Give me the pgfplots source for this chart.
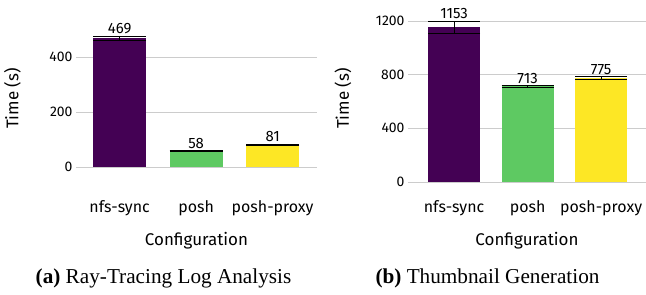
\documentclass[border=0pt]{standalone}
\usepackage{fontspec}
\setmainfont{Fira Sans}
\newfontfamily\capfont{Liberation Serif}
\usepackage{pgfplots}
\pgfplotsset{compat=1.18}
\definecolor{vpurple}{HTML}{440154}
\definecolor{vgreen}{HTML}{5EC962}
\definecolor{vyellow}{HTML}{FDE725}
\definecolor{gridgray}{HTML}{CCCCCC}
\pgfplotsset{
  mybar/.style={
    scale only axis,
    font=\fontsize{14}{16}\selectfont,
    /pgf/number format/assume math mode=true,
    /pgf/number format/1000 sep={},
    axis line style={draw=none},
    tick style={draw=none},
    ymajorgrids,
    grid style={gridgray, line width=0.8pt},
    xtick={0,1,2},
    xticklabels={nfs-sync,posh,posh-proxy},
    xticklabel style={anchor=base, yshift=-30bp, font=\fontsize{16}{18}\selectfont},
    ylabel={Time (s)},
    xlabel={Configuration},
    label style={font=\fontsize{17}{20}\selectfont},
    clip=false,
    anchor=south west,
  },
  barplot/.style={
    ybar, bar shift=0pt, draw=none, fill=#1,
    error bars/.cd, y dir=both, y explicit,
    error bar style={black, line width=0.8pt},
  },
  vlabel/.style={draw=none, mark=none, nodes near coords, point meta=explicit symbolic,
    nodes near coords style={anchor=south, inner sep=2bp, font=\fontsize{15}{18}\selectfont}},
}
\begin{document}
\begin{tikzpicture}[x=1bp,y=1bp]
\useasboundingbox (0,0) rectangle (646,294);
% left axis
\begin{axis}[mybar,
  at={(76bp,112bp)},
  width=241bp, height=167bp,
  xmin=-0.57, xmax=2.58,
  ymin=-54.5, ymax=553,
  ytick={0,200,400},
  ylabel style={at={(axis description cs:-0.264,0.5)}, anchor=center},
  xlabel style={at={(axis description cs:0.5,-0.353)}, anchor=center},
  bar width=53bp,
  error bars/error mark options={rotate=90, black, line width=0.8pt, mark size=26.5bp},
]
\addplot[barplot=vpurple] coordinates {(0,469) +- (0,7.5)};
\addplot[barplot=vgreen] coordinates {(1,58) +- (0,2)};
\addplot[barplot=vyellow] coordinates {(2,81) +- (0,2.5)};
\addplot[vlabel] coordinates {(0,476.5)[469] (1,60)[58] (2,83.5)[81]};
\end{axis}
% right axis
\begin{axis}[mybar,
  at={(408bp,112bp)},
  width=238bp, height=167bp,
  xmin=-0.626, xmax=2.61,
  ymin=0, ymax=1245,
  ytick={0,400,800,1200},
  ylabel style={at={(axis description cs:-0.273,0.5)}, anchor=center},
  xlabel style={at={(axis description cs:0.5,-0.353)}, anchor=center},
  bar width=52bp,
  error bars/error mark options={rotate=90, black, line width=0.8pt, mark size=26bp},
]
\addplot[barplot=vpurple] coordinates {(0,1153) +- (0,47)};
\addplot[barplot=vgreen] coordinates {(1,713) +- (0,6)};
\addplot[barplot=vyellow] coordinates {(2,775) +- (0,10)};
\addplot[vlabel] coordinates {(0,1200)[1153] (1,719)[713] (2,785)[775]};
\end{axis}
\node[font=\capfont\fontsize{21.3}{25}\selectfont] at (163.5,16) {\textbf{(a)} Ray-Tracing Log Analysis};
\node[font=\capfont\fontsize{21.3}{25}\selectfont] at (487.5,16) {\textbf{(b)} Thumbnail Generation};
\end{tikzpicture}
\end{document}
